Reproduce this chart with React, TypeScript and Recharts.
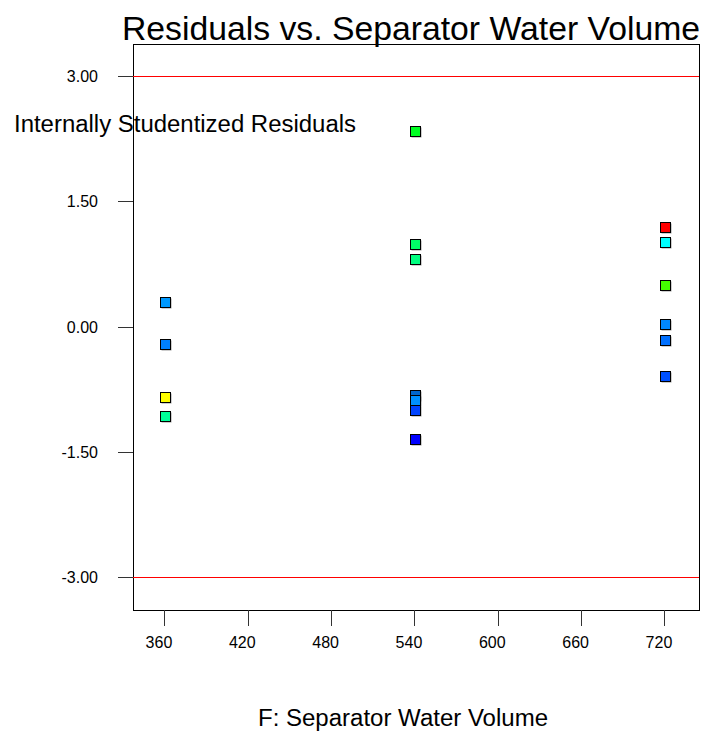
import React from "react";
import {
  ScatterChart,
  Scatter,
  XAxis,
  YAxis,
  ReferenceLine,
  ReferenceArea,
} from "recharts";

const waterVolume = [360, 360, 360, 360, 540, 540, 540, 540, 540, 540, 540, 720, 720, 720, 720, 720, 720];
const residuals = [0.3, -0.2, -0.84, -1.06, 2.35, 1.0, 0.82, -0.81, -0.87, -0.99, -1.34, 1.2, 1.02, 0.5, 0.04, -0.16, -0.59];
const pointColors = [
  "#0099ff", "#0080ff", "#ffff00", "#00ff99",
  "#00ff22", "#00ff66", "#00ff80", "#0066cc", "#0090ff", "#0044ff", "#0000ff",
  "#ff0000", "#00ffff", "#44ff00", "#0088ff", "#0070ff", "#0050ff",
];
const xTicks = [360, 420, 480, 540, 600, 660, 720];
const yTicks = [-3, -1.5, 0, 1.5, 3];
const limitLines = [3, -3];

const points = waterVolume.map((x, i) => ({ x, y: residuals[i], color: pointColors[i] }));

const FONT = "'Liberation Sans', Arial, Helvetica, sans-serif";
const X_DOMAIN: [number, number] = [337, 744.5];
const Y_DOMAIN: [number, number] = [-3.389221556886228, 3.389221556886228];

const SquareMark = (props: any) => {
  const { cx, cy, payload } = props;
  if (cx == null || cy == null) return null;
  const x0 = Math.round(cx) - 5 + 0.5;
  const y0 = Math.round(cy) - 5 + 0.5;
  return (
    <g>
      <rect x={x0 + 1} y={y0 + 1} width={10} height={10} fill="#9a9a9a" />
      <rect x={x0} y={y0} width={10} height={10} fill={payload.color} stroke="#000" strokeWidth={1} />
    </g>
  );
};

export default function App() {
  return (
    <div style={{ position: "absolute", left: 0, top: 0, width: 722, height: 733, background: "#fff" }}>
      <ScatterChart
        width={722}
        height={733}
        margin={{ top: 44, right: 23, bottom: 83, left: 73 }}
      >
        <XAxis
          type="number"
          dataKey="x"
          domain={X_DOMAIN}
          allowDataOverflow
          ticks={xTicks}
          height={40}
          tickSize={16}
          tickMargin={11}
          axisLine={false}
          tickLine={{ stroke: "#333", shapeRendering: "crispEdges" }}
          tick={{ fill: "#000", fontSize: 16, fontFamily: FONT, dx: -6 }}
        />
        <YAxis
          type="number"
          dataKey="y"
          domain={Y_DOMAIN}
          allowDataOverflow
          ticks={yTicks}
          width={60}
          tickSize={15}
          tickMargin={20}
          axisLine={false}
          tickLine={{ stroke: "#333", shapeRendering: "crispEdges" }}
          tickFormatter={(v: number) => v.toFixed(2)}
          tick={{ fill: "#000", fontSize: 16, fontFamily: FONT }}
        />
        <ReferenceArea
          x1={X_DOMAIN[0]}
          x2={X_DOMAIN[1]}
          y1={Y_DOMAIN[0]}
          y2={Y_DOMAIN[1]}
          fill="none"
          fillOpacity={0}
          stroke="#000"
          strokeWidth={1}
          shapeRendering="crispEdges"
          ifOverflow="visible"
        />
        {limitLines.map((v) => (
          <ReferenceLine key={v} y={v} stroke="#ff0000" strokeWidth={1} ifOverflow="visible" />
        ))}
        <Scatter data={points} shape={SquareMark} isAnimationActive={false} />
      </ScatterChart>
      <svg width={722} height={733} style={{ position: "absolute", left: 0, top: 0, pointerEvents: "none" }}>
        <text x={122} y={40} fontSize={33} fontFamily={FONT} fill="#000" textLength={578} lengthAdjust="spacingAndGlyphs">
          Residuals vs. Separator Water Volume
        </text>
        <text x={14} y={132} fontSize={23} fontFamily={FONT} fill="#000" textLength={342} lengthAdjust="spacingAndGlyphs">
          Internally Studentized Residuals
        </text>
        <text x={258} y={726} fontSize={23} fontFamily={FONT} fill="#000" textLength={290} lengthAdjust="spacingAndGlyphs">
          F: Separator Water Volume
        </text>
      </svg>
    </div>
  );
}
